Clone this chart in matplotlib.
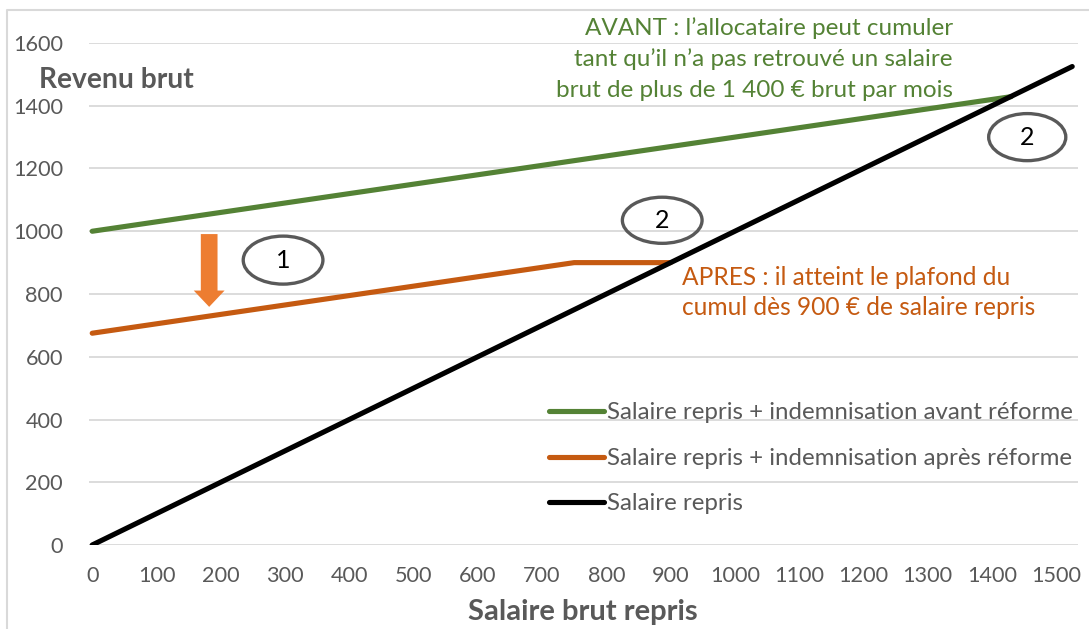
import matplotlib
matplotlib.use("Agg")
import matplotlib.pyplot as plt
from matplotlib.patches import Ellipse, FancyArrow
from matplotlib.lines import Line2D

plt.rcParams['font.family'] = ['Lato', 'DejaVu Sans']

# ---- data ----
green_x = [0, 100, 200, 300, 400, 500, 600, 700, 800, 900, 1000, 1100, 1200, 1300, 1400, 1430]
green_y = [1000, 1030, 1060, 1090, 1120, 1150, 1180, 1210, 1240, 1270, 1300, 1330, 1360, 1390, 1420, 1429]
orange_x = [0, 100, 200, 300, 400, 500, 600, 700, 750, 800, 900]
orange_y = [675, 705, 735, 765, 795, 825, 855, 885, 900, 900, 900]
black_x = [0, 500, 1000, 1525]
black_y = [0, 500, 1000, 1525]

x_ticks = list(range(0, 1600, 100))
y_ticks = list(range(0, 1800, 200))

labels = ["Salaire repris + indemnisation avant réforme",
          "Salaire repris + indemnisation après réforme",
          "Salaire repris"]
note_avant = ["AVANT : l\u2019allocataire peut cumuler",
              "tant qu\u2019il n\u2019a pas retrouvé un salaire",
              "brut de plus de 1 400 € brut par mois"]
note_apres = ["APRES : il atteint le plafond du",
              "cumul dès 900 € de salaire repris"]
circle_labels = ["1", "2", "2"]
circle_x = [297, 887, 1455]
circle_y = [908, 1035, 1300]

GREEN = "#548235"
ORANGE = "#C55A11"
ARROW = "#ED7D31"
GRAY = "#595959"
GRID = "#D9D9D9"

W, H = 1089, 629
fig = plt.figure(figsize=(W / 100, H / 100), dpi=100)
ax = fig.add_axes([89 / W, 1 - 545 / H, (1078 - 89) / W, (545 - 43) / H])


def fx(px):
    return px / W


def fy(py):
    return 1 - py / H


renderer = fig.canvas.get_renderer()


def size_for(text, width_px, weight='normal'):
    t = fig.text(0, 0, text, fontsize=10, fontweight=weight)
    w = t.get_window_extent(renderer).width
    t.remove()
    return 10 * width_px / w


colors = [GREEN, ORANGE, "black"]
ax.plot(green_x, green_y, color=GREEN, lw=3.7, solid_capstyle='round', label=labels[0], zorder=3)
ax.plot(orange_x, orange_y, color=ORANGE, lw=3.7, solid_capstyle='round', label=labels[1], zorder=3)
ax.plot(black_x, black_y, color="black", lw=3.7, solid_capstyle='round', label=labels[2], zorder=4)

tick_size = size_for("1000", 50)
ax.set_xlim(-5, 1534)
ax.set_ylim(0, 1600)
ax.set_xticks(x_ticks)
ax.set_yticks(y_ticks)
ax.tick_params(length=0, labelsize=tick_size, labelcolor=GRAY)
ax.tick_params(axis='y', pad=(89 - 63) * 0.72)
ax.tick_params(axis='x', pad=15)
for s in ax.spines.values():
    s.set_visible(False)
ax.grid(axis='y', color=GRID, lw=1.3)
ax.set_axisbelow(True)

# numbered ellipses
num_size = 18
ell_w = [124, 124, 120]
ell_h = [153, 147, 150]
for lab, cx, cy, ew, eh in zip(circle_labels, circle_x, circle_y, ell_w, ell_h):
    ax.add_patch(Ellipse((cx, cy), ew, eh, fill=False, edgecolor=GRAY, lw=2.4, zorder=5))
    ax.text(cx, cy, lab, ha='center', va='center', fontsize=num_size, color="black", zorder=6)

# downward arrow
ax.add_patch(FancyArrow(182, 991, 0, 759 - 991, width=26, head_width=48, head_length=52,
                        length_includes_head=True, color=ARROW, lw=0, zorder=5))

# notes
g_size = size_for(note_avant[2], 398)
for line, base in zip(note_avant, [35, 66, 97]):
    fig.text(fx(953), fy(base), line, ha='right', va='baseline', fontsize=g_size, color=GREEN)
o_size = size_for(note_apres[1], 353)
for line, base in zip(note_apres, [285, 315]):
    fig.text(fx(682), fy(base), line, ha='left', va='baseline', fontsize=o_size, color=ORANGE)

# legend (drawn by hand to match the reference placement)
leg_size = size_for(labels[0], 466)
for lab, col, base in zip(labels, colors, [419, 465, 510]):
    mid = base - 8
    fig.add_artist(Line2D([fx(549), fx(604)], [fy(mid), fy(mid)], color=col, lw=3.7,
                          solid_capstyle='round', transform=fig.transFigure))
    fig.text(fx(607), fy(base), lab, ha='left', va='baseline', fontsize=leg_size, color=GRAY)

# axis titles
fig.text(fx(39), fy(88), "Revenu brut", fontsize=size_for("Revenu brut", 155, 'bold'),
         fontweight='bold', color=GRAY, ha='left', va='baseline')
fig.text(fx(583), fy(620), "Salaire brut repris", fontsize=size_for("Salaire brut repris", 230, 'bold'),
         fontweight='bold', color=GRAY, ha='center', va='baseline')

# outer frame
fig.add_artist(Line2D([fx(7), fx(7), 1.0], [0, fy(10), fy(10)], color=GRID, lw=1.5,
                      transform=fig.transFigure))

fig.savefig("out.png", dpi=100)
